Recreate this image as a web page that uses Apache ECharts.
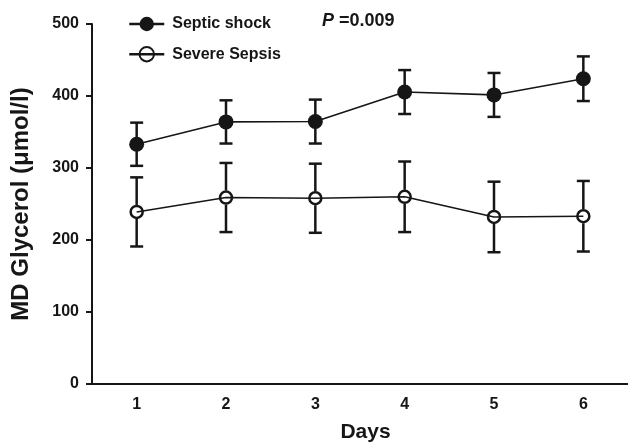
<!DOCTYPE html>
<html>
<head>
<meta charset="utf-8">
<script src="https://cdn.jsdelivr.net/npm/echarts@6/dist/echarts.min.js"></script>
<style>html,body{margin:0;padding:0;background:#fff;}#c{width:628px;height:448px;}</style>
</head>
<body>
<div id="c"></div>
<script>
var days = ['1', '2', '3', '4', '5', '6'];
var shockMean = [333, 364, 364.5, 405.5, 401.5, 424];
var shockErr = [30, 30, 30.5, 30.5, 30.5, 31];
var sepsisMean = [239, 259, 258, 260, 232, 233];
var sepsisErr = [48, 48, 48, 49, 49, 49];
var yTicks = [0, 100, 200, 300, 400, 500];

var FONT = '"Liberation Sans", Arial, sans-serif';
var INK = '#161616';

function errData(mean, err) {
  return mean.map(function (m, i) { return [i, m, err[i]]; });
}

function errRender(gap) {
  return function (params, api) {
    var i = api.value(0), m = api.value(1), e = api.value(2);
    var c = api.coord([i, m]);
    var top = api.coord([i, m + e]);
    var bot = api.coord([i, m - e]);
    var hw = 6.5;
    var st = { stroke: INK, lineWidth: 2.5 };
    var ch = [
      { type: 'line', shape: { x1: top[0], y1: top[1], x2: top[0], y2: c[1] - gap }, style: st },
      { type: 'line', shape: { x1: bot[0], y1: c[1] + gap, x2: bot[0], y2: bot[1] }, style: st },
      { type: 'line', shape: { x1: top[0] - hw, y1: top[1], x2: top[0] + hw, y2: top[1] }, style: st },
      { type: 'line', shape: { x1: bot[0] - hw, y1: bot[1], x2: bot[0] + hw, y2: bot[1] }, style: st }
    ];
    return { type: 'group', children: ch };
  };
}

var chart = echarts.init(document.getElementById('c'), null, { renderer: 'canvas' });
chart.setOption({
  animation: false,
  backgroundColor: '#fff',
  grid: { left: 92, right: -3, top: 24, bottom: 64, containLabel: false },
  legend: {
    orient: 'vertical',
    left: 123,
    top: 11,
    itemWidth: 35,
    itemHeight: 18,
    itemGap: 14,
    data: ['Septic shock', 'Severe Sepsis'],
    lineStyle: { width: 2.5 },
    textStyle: { fontFamily: FONT, fontWeight: 'bold', fontSize: 16, color: INK, lineHeight: 16, padding: [0, 0, 0, 3] }
  },
  graphic: [{
    type: 'text',
    left: 322,
    top: 12,
    style: {
      text: '{i|P}{n| =0.009}',
      rich: {
        i: { fontFamily: FONT, fontWeight: 'bold', fontStyle: 'italic', fontSize: 18, fill: INK },
        n: { fontFamily: FONT, fontWeight: 'bold', fontSize: 18, fill: INK }
      }
    }
  }],
  xAxis: {
    type: 'category',
    data: days,
    boundaryGap: true,
    name: 'Days',
    nameLocation: 'middle',
    nameGap: 38,
    nameTextStyle: { fontFamily: FONT, fontWeight: 'bold', fontSize: 21, color: INK, padding: [0, 0, 0, 11] },
    axisLine: { lineStyle: { color: INK, width: 2 } },
    axisTick: { alignWithLabel: true, length: 6, lineStyle: { color: INK, width: 2 } },
    axisLabel: { margin: 13, fontFamily: FONT, fontWeight: 'bold', fontSize: 16, color: INK },
    splitLine: { show: false }
  },
  yAxis: {
    type: 'value',
    min: yTicks[0],
    max: yTicks[yTicks.length - 1],
    interval: 100,
    name: 'MD Glycerol (μmol/l)',
    nameLocation: 'middle',
    nameRotate: 90,
    nameGap: 59,
    nameTextStyle: { fontFamily: FONT, fontWeight: 'bold', fontSize: 24, color: INK },
    axisLine: { show: true, lineStyle: { color: INK, width: 2 } },
    axisTick: { show: true, length: 6, lineStyle: { color: INK, width: 2 } },
    axisLabel: { margin: 13, fontFamily: FONT, fontWeight: 'bold', fontSize: 16, color: INK },
    splitLine: { show: false }
  },
  series: [
    {
      type: 'custom',
      name: 'shockErr',
      data: errData(shockMean, shockErr),
      renderItem: errRender(0),
      encode: { x: 0, y: 1 },
      z: 1,
      silent: true
    },
    {
      type: 'custom',
      name: 'sepsisErr',
      data: errData(sepsisMean, sepsisErr),
      renderItem: errRender(7),
      encode: { x: 0, y: 1 },
      z: 1,
      silent: true
    },
    {
      type: 'line',
      name: 'Septic shock',
      data: shockMean,
      symbol: 'circle',
      symbolSize: 15,
      lineStyle: { color: INK, width: 1.6 },
      itemStyle: { color: INK, borderColor: INK, borderWidth: 0 },
      z: 3
    },
    {
      type: 'line',
      name: 'Severe Sepsis',
      data: sepsisMean,
      symbol: 'circle',
      symbolSize: 12,
      lineStyle: { color: INK, width: 1.6 },
      itemStyle: { color: 'rgba(255,255,255,0)', borderColor: INK, borderWidth: 2.5 },
      z: 3
    }
  ]
});
</script>
</body>
</html>
